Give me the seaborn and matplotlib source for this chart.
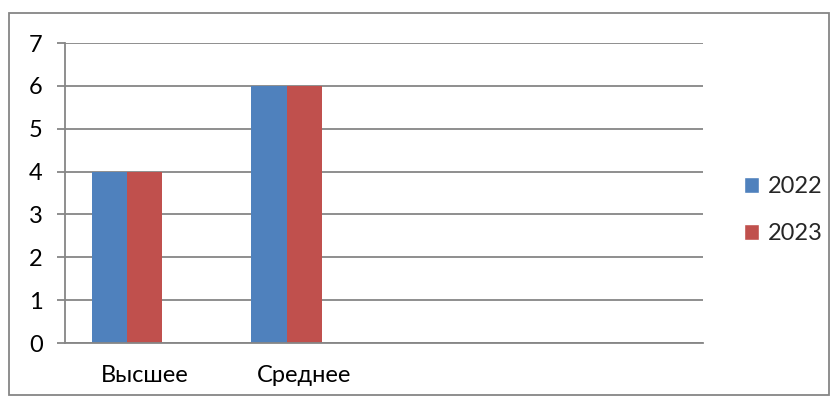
import pandas as pd
import numpy as np
import seaborn as sns
import matplotlib.pyplot as plt
from matplotlib.patches import Patch, Rectangle

# data
categories = ['Высшее', 'Среднее', ' ', '  ']
years = ['2022', '2023', '']          # third series is empty in the source
values_2022 = [4, 6, np.nan, np.nan]
values_2023 = [4, 6, np.nan, np.nan]
values_empty = [np.nan, np.nan, np.nan, np.nan]
y_ticks = [0, 1, 2, 3, 4, 5, 6, 7]
colors = ['#4F81BD', '#C0504D', '#9BBB59']

df = pd.DataFrame({
    'cat': categories * 3,
    'year': [years[0]] * 4 + [years[1]] * 4 + [years[2]] * 4,
    'value': values_2022 + values_2023 + values_empty,
})

sns.set_style('white')
plt.rcParams['font.family'] = ['Lato', 'DejaVu Sans']
fs = 17
grey = '#868686'

fig = plt.figure(figsize=(8.38, 4.01), dpi=100)
ax = fig.add_axes([65 / 838, 58 / 401, 638 / 838, 300 / 401])

sns.barplot(data=df, x='cat', y='value', hue='year', order=categories,
            hue_order=years, palette=colors, width=3 / 4.5, linewidth=0,
            saturation=1, errorbar=None, legend=False, ax=ax)

ax.set_xlim(-0.5, 3.5)
ax.set_ylim(0, 7)
ax.set_yticks(y_ticks)
ax.set_yticklabels([str(t) for t in y_ticks], fontsize=fs, color='black')
ax.yaxis.grid(True, color=grey, linewidth=1.3)
ax.set_axisbelow(True)

# category boundaries as ticks, labels in the middle
ax.set_xticks([-0.5, 0.5, 1.5, 2.5, 3.5])
ax.set_xticklabels([])
ax.set_xticks([0, 1, 2, 3], minor=True)
ax.set_xticklabels(['Высшее', 'Среднее', '', ''], minor=True, fontsize=fs, color='black')
ax.tick_params(axis='x', which='minor', length=0, pad=16)
ax.tick_params(axis='x', which='major', length=6, width=1.3, color=grey, direction='out')
ax.tick_params(axis='y', length=6, width=1.3, color=grey, direction='out', pad=10, left=True)

for s in ['top', 'right']:
    ax.spines[s].set_visible(False)
for s in ['left', 'bottom']:
    ax.spines[s].set_color(grey)
    ax.spines[s].set_linewidth(1.3)
ax.set_xlabel('')
ax.set_ylabel('')

handles = [Patch(facecolor=colors[0], label='2022'), Patch(facecolor=colors[1], label='2023')]
fig.legend(handles=handles, loc='center left', bbox_to_anchor=(744 / 838, 1 - 210 / 401),
           frameon=False, fontsize=fs, handlelength=0.65, handleheight=0.65,
           handletextpad=0.35, labelspacing=1.1, borderpad=0, borderaxespad=0)

# outer chart border
fig.patches.append(Rectangle((9 / 838, 6 / 401), 820 / 838, 382 / 401,
                             transform=fig.transFigure, fill=False,
                             edgecolor=grey, linewidth=1.3))

fig.savefig('out.png', dpi=100)
